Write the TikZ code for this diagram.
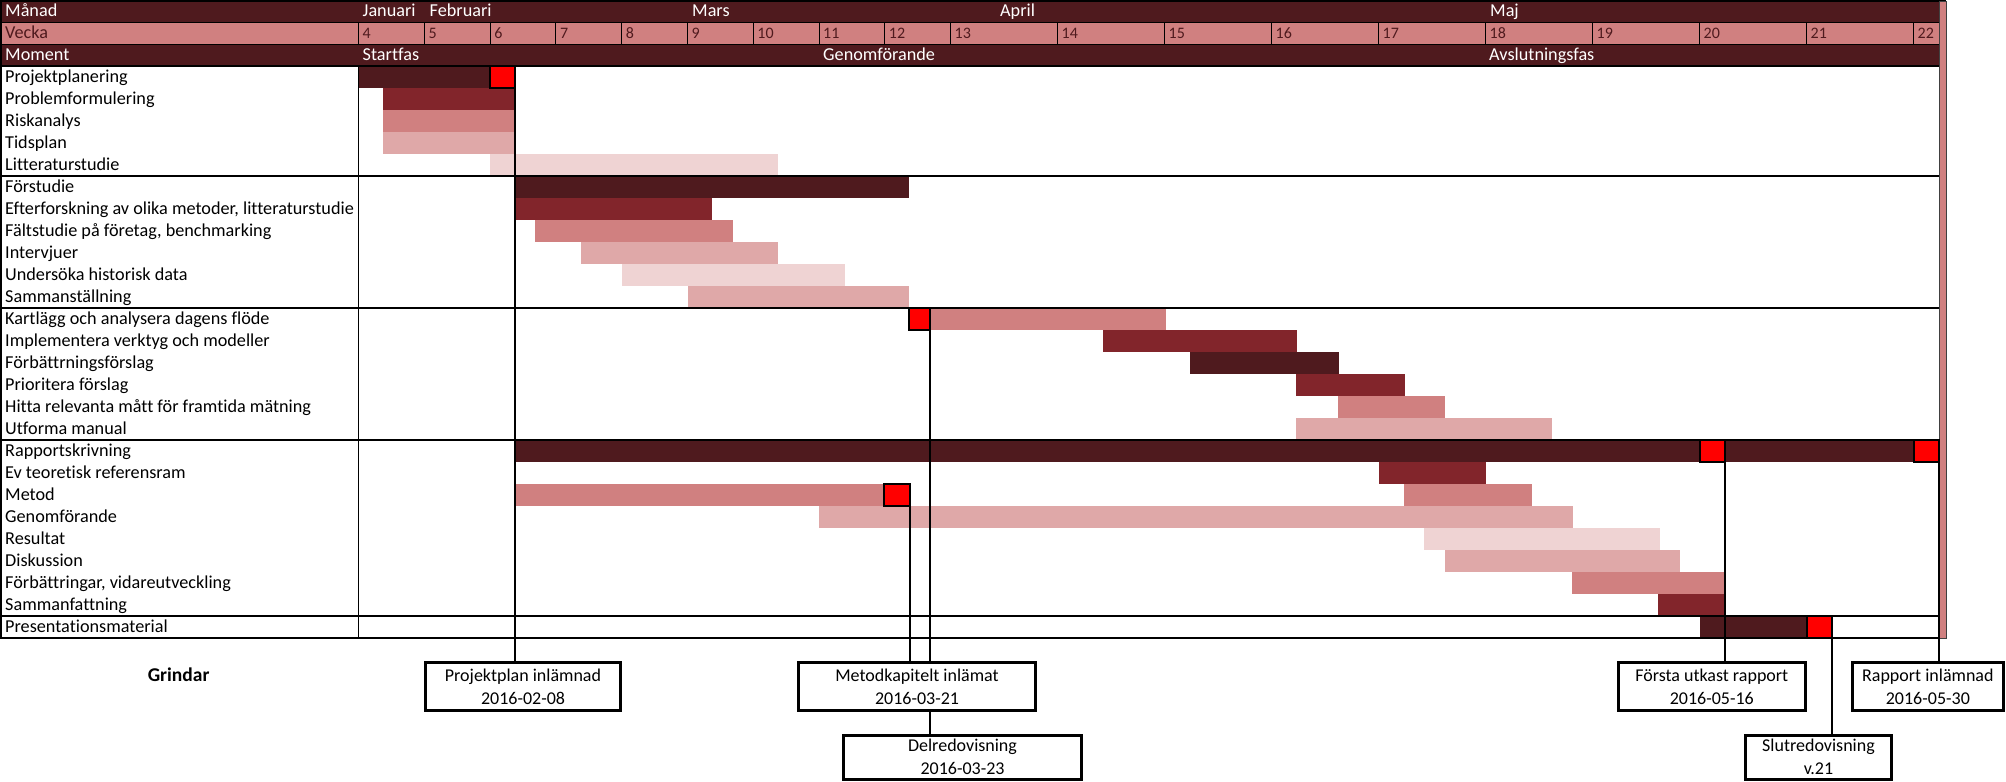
\documentclass[tikz,border=0pt]{standalone}
\usepackage{fontspec}
\setmainfont{Carlito}[Ligatures=NoCommon]
\definecolor{cDark}{HTML}{4F1A1E}
\definecolor{cMid}{HTML}{82252B}
\definecolor{cMed}{HTML}{D08080}
\definecolor{cLight}{HTML}{DFA8A8}
\definecolor{cPale}{HTML}{EFD3D3}
\definecolor{cRed}{HTML}{FF0000}
\begin{document}
\begin{tikzpicture}[x=1pt,y=-1pt,
  lbl/.style={anchor=base west,font=\fontsize{18.2}{20}\selectfont,inner sep=0pt},
  hdr/.style={lbl,text=white},
  wk/.style={lbl,text=cDark,font=\fontsize{16}{18}\selectfont},
  gate/.style={draw=black,line width=3pt,fill=white,align=center,
    font=\fontsize{18}{23}\selectfont,inner sep=0pt,outer sep=0pt},
  redsq/.style={draw=black,line width=1.2pt,fill=cRed,inner sep=0pt,outer sep=0pt,
    minimum height=22pt,anchor=north west},
  mline/.style={line width=1.4pt,black},
  gline/.style={line width=2pt,black},
  tline/.style={line width=1pt,black}]
\useasboundingbox (0,0) rectangle (2006,782);
\fill[white] (0,0) rectangle (2006,782);

% header rows
\fill[cDark] (0,0) rectangle (1939,22);
\fill[cMed] (0,22) rectangle (1939,44);
\fill[cDark] (0,44) rectangle (1939,66);

% bars
\foreach \r/\a/\b/\c in {
  3/359/490/cDark, 4/383/515/cMid, 5/383/515/cMed, 6/383/515/cLight, 7/490/778/cPale,
  8/515/908.6/cDark, 9/515/712/cMid, 10/535/733/cMed, 11/581/778/cLight,
  12/622/844.5/cPale, 13/688/908.6/cLight,
  14/930/1166/cMed, 15/1103/1297/cMid, 16/1190/1339/cDark, 17/1296/1404.5/cMid,
  18/1338/1445/cMed, 19/1296/1552/cLight,
  20/515/1700/cDark, 20/1725/1914/cDark, 21/1378.5/1486.4/cMid,
  22/515/884/cMed, 22/1403.5/1532/cMed, 23/818.5/1573/cLight,
  24/1424/1660/cPale, 25/1444.6/1680/cLight, 26/1572/1723.6/cMed,
  27/1658/1723.6/cMid, 28/1700/1807/cDark}
  \fill[\c] (\a,{22*\r}) rectangle (\b,{22*\r+22});

% grid lines
\draw[gline] (0,1) -- (1946,1);
\draw[tline] (0,22) -- (1939,22);
\draw[tline] (0,44) -- (1939,44);
\draw[line width=1.5pt] (0,66) -- (1939,66);
\foreach \yy in {176,308,440,616} \draw[gline] (0,\yy) -- (1939,\yy);
\draw[gline] (0,638) -- (1946,638);
\draw[line width=1.5pt] (1,0) -- (1,638);
\draw[tline] (358.5,22) -- (358.5,44);
\draw[line width=1.2pt] (358.5,66) -- (358.5,638);
\foreach \xx in {424.3,490.1,555.8,621.6,687.4,753.2,819.0,884.7,950.5,1057.5,1164.5,1271.5,1378.5,1485.5,1592.5,1699.5,1806.5,1913.5}
  \draw[tline] (\xx,22) -- (\xx,44);
\draw[tline] (1939,0) -- (1939,638);
\filldraw[fill=cMed,draw=black!75,line width=0.8pt] (1939,1) rectangle (1946,638);

% header texts
\node[hdr] (hMan) at (5,16.5) {Månad};
\node[hdr] (hJan) at (362.5,16.5) {Januari};
\node[hdr] (hFeb) at (429.5,16.5) {Februari};
\node[hdr] (hMar) at (692,16.5) {Mars};
\node[hdr] (hApr) at (1000,16.5) {April};
\node[hdr] (hMaj) at (1490,16.5) {Maj};
\node[lbl,text=cDark] (hVec) at (5,38.5) {Vecka};
\foreach \xx/\w in {358.5/4,424.3/5,490.1/6,555.8/7,621.6/8,687.4/9,753.2/10,819.0/11,884.7/12,950.5/13,1057.5/14,1164.5/15,1271.5/16,1378.5/17,1485.5/18,1592.5/19,1699.5/20,1806.5/21,1913.5/22}
  \node[wk] (w\w) at (\xx+4,38.5) {\w};
\node[hdr] (hMom) at (5,60.5) {Moment};
\node[hdr] (hSta) at (362.5,60.5) {Startfas};
\node[hdr] (hGen) at (823,60.5) {Genomförande};
\node[hdr] (hAvs) at (1489,60.5) {Avslutningsfas};

% task labels
\foreach \r/\t in {3/Projektplanering,4/Problemformulering,5/Riskanalys,6/Tidsplan,
  7/Litteraturstudie,8/Förstudie,9/{Efterforskning av olika metoder, litteraturstudie},
  10/{Fältstudie på företag, benchmarking},11/Intervjuer,12/Undersöka historisk data,
  13/Sammanställning,14/Kartlägg och analysera dagens flöde,
  15/Implementera verktyg och modeller,16/Förbättrningsförslag,17/Prioritera förslag,
  18/Hitta relevanta mått för framtida mätning,19/Utforma manual,20/Rapportskrivning,
  21/Ev teoretisk referensram,22/Metod,23/Genomförande,24/Resultat,25/Diskussion,
  26/{Förbättringar, vidareutveckling},27/Sammanfattning,28/Presentationsmaterial}
  \node[lbl] (t\r) at (5,{22*\r+16.5}) {\t};

% milestone squares
\node[redsq,minimum width=25pt] (rPP) at (490,66) {};
\node[redsq,minimum width=21pt] (rKart) at (909,308) {};
\node[redsq,minimum width=26pt] (rMet) at (884,484) {};
\node[redsq,minimum width=25pt] (rRap1) at (1700,440) {};
\node[redsq,minimum width=25pt] (rRap2) at (1914,440) {};
\node[redsq,minimum width=25pt] (rPres) at (1807,616) {};

% gates
\node[font=\fontsize{19.5}{21}\selectfont\bfseries] (grind) at (178.6,675) {Grindar};
\node[gate,minimum width=195pt,minimum height=48pt] (gPP) at (523,686.5) {Projektplan inlämnad\\2016-02-08};
\node[gate,minimum width=237pt,minimum height=48pt] (gMK) at (917,686.5) {Metodkapitelt inlämat\\2016-03-21};
\node[gate,minimum width=238pt,minimum height=43.5pt] (gDel) at (962.5,757.3) {Delredovisning\\2016-03-23};
\node[gate,minimum width=186.5pt,minimum height=48pt] (gFU) at (1711.75,686.5) {Första utkast rapport\\2016-05-16};
\node[gate,minimum width=150.7pt,minimum height=48pt] (gRI) at (1927.85,686.5) {Rapport inlämnad\\2016-05-30};
\node[gate,minimum width=146pt,minimum height=43.5pt] (gSR) at (1818.5,757.3) {Slutredovisning\\v.21};

% connectors
\draw[mline] (rPP.north east) -- (rPP.north east |- gPP.north);
\draw[mline] (rMet.south east) -- (rMet.south east |- gMK.north);
\draw[mline] (rKart.south east) -- (rKart.south east |- gMK.north);
\draw[mline] (rKart.south east |- gMK.south) -- (rKart.south east |- gDel.north);
\draw[mline] (rRap1.south east) -- (rRap1.south east |- gFU.north);
\draw[mline] (rPres.south east) -- (rPres.south east |- gSR.north);
\draw[mline] (rRap2.south east) -- (rRap2.south east |- gRI.north);
\end{tikzpicture}
\end{document}
